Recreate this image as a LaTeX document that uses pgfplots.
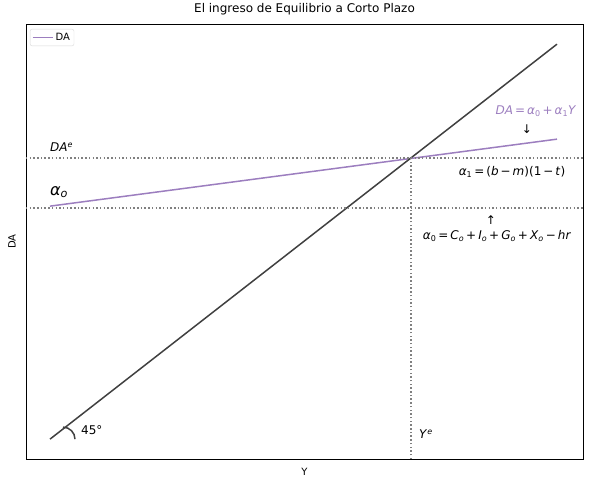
\documentclass[border=0pt]{standalone}
\usepackage{pgfplots}
\pgfplotsset{compat=1.18}
\usepackage{fontspec}
\setmainfont{DejaVu Sans}
\definecolor{lpurple}{HTML}{9C7EBF}
\definecolor{darkline}{HTML}{404040}
\newcommand{\mi}[1]{\textit{#1}}
\newcommand{\sub}[1]{\textsubscript{#1}}
\newcommand{\sop}[1]{\,#1\,}
\begin{document}
\fontsize{10}{12}\selectfont
\begin{tikzpicture}
\begin{axis}[
  scale only axis, width=557pt, height=435pt,
  xmin=26, xmax=583, ymin=25, ymax=460,
  xtick=\empty, ytick=\empty,
  clip=false,
  axis line style={line width=0.8pt},
  title={El ingreso de Equilibrio a Corto Plazo},
  title style={at={(axis description cs:0.5,1.0207)}, anchor=center, font=\fontsize{12}{14}\selectfont},
  xlabel={Y}, ylabel={DA},
  xlabel style={at={(axis description cs:0.5,-0.030)}, anchor=center},
  ylabel style={at={(axis description cs:-0.025,0.5)}, anchor=center},
  legend style={at={(axis description cs:0.007,0.989)}, anchor=north west, draw=black!15, rounded corners=2pt, font=\fontsize{10}{12}\selectfont, inner sep=2pt},
  legend cell align=left,
  legend image code/.code={\draw[lpurple, line width=1.5pt] (0pt,0pt) -- (20pt,0pt);},
]
\addplot[lpurple, line width=1.5pt] coordinates {(50,278) (557,345)};
\addlegendentry{DA}
\addplot[darkline, line width=1.5pt, forget plot] coordinates {(50,45) (557,440)};
\addplot[gray, line width=1.5pt, dash pattern=on 1.5pt off 2.2pt, forget plot] coordinates {(26,326) (583,326)};
\addplot[gray, line width=1.5pt, dash pattern=on 1.5pt off 2.2pt, forget plot] coordinates {(26,276) (583,276)};
\addplot[gray, line width=1.5pt, dash pattern=on 1.5pt off 2.2pt, forget plot] coordinates {(411,25) (411,326)};
\draw[darkline, line width=1.5pt] (axis cs:63,57) arc[start angle=90, end angle=0, radius=12pt];
\node[anchor=west, inner sep=0pt, font=\fontsize{12}{14}\selectfont] at (axis cs:50,337) {\mi{DA}\textsuperscript{\mi{e}}};
\node[anchor=west, inner sep=0pt, font=\fontsize{16}{18}\selectfont] at (axis cs:50,292) {\mi{α}\sub{\mi{o}}};
\node[anchor=center, inner sep=0pt, text=lpurple, font=\fontsize{12}{14}\selectfont] at (axis cs:536,373) {\mi{DA}\sop{=}\mi{α}\sub{0}\sop{+}\mi{α}\sub{1}\mi{Y}};
\node[anchor=center, inner sep=0pt, font=\fontsize{12}{14}\selectfont] at (axis cs:527,355) {↓};
\node[anchor=center, inner sep=0pt, font=\fontsize{12}{14}\selectfont] at (axis cs:512,312) {\mi{α}\sub{1}\sop{=}(\mi{b}\sop{−}\mi{m})(1\sop{−}\mi{t})};
\node[anchor=center, inner sep=0pt, font=\fontsize{12}{14}\selectfont] at (axis cs:491,264) {↑};
\node[anchor=center, inner sep=0pt, font=\fontsize{12}{14}\selectfont] at (axis cs:497,248) {\mi{α}\sub{0}\sop{=}\mi{C}\sub{\mi{o}}\sop{+}\mi{I}\sub{\mi{o}}\sop{+}\mi{G}\sub{\mi{o}}\sop{+}\mi{X}\sub{\mi{o}}\sop{−}\mi{hr}};
\node[anchor=west, inner sep=0pt, font=\fontsize{12}{14}\selectfont] at (axis cs:81,54) {45°};
\node[anchor=west, inner sep=0pt, font=\fontsize{12}{14}\selectfont] at (axis cs:419,50) {\mi{Y}\textsuperscript{\mi{e}}};
\end{axis}
\path (current axis.south west) ++(-26pt,-25pt) coordinate (bl);
\path (current axis.north east) ++(6pt,22pt) coordinate (tr);
\useasboundingbox (bl) rectangle (tr);
\end{tikzpicture}
\end{document}
